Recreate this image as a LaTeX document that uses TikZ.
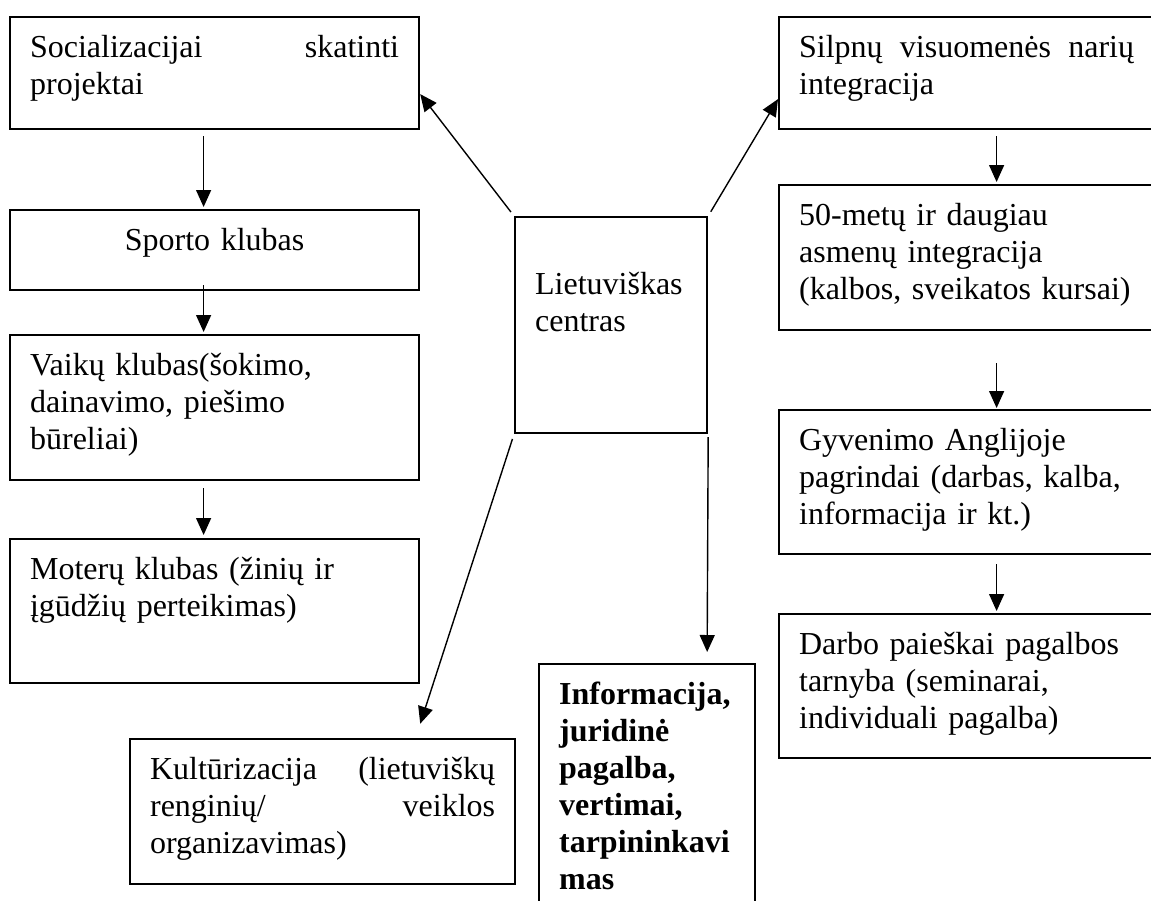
\documentclass[tikz,border=0pt]{standalone}
\usepackage{fontspec}
\setmainfont{Liberation Serif}
\usetikzlibrary{arrows.meta}

\begin{document}
\begin{tikzpicture}
[every node/.style={inner xsep=20pt, inner ysep=0pt},
 card/.style={draw=black, line width=2.2pt, anchor=north west, align=left, font=\fontsize{32pt}{37pt}\selectfont, text height=40pt},
 link/.style={line width=1.4pt, -{Triangle[length=17pt, width=15pt]}, color=black}]
\useasboundingbox (0pt, 0pt) rectangle (1151pt, -900pt);
\clip (0pt, 0pt) rectangle (1151pt, -900pt);
\node (soc) [card, text width=369pt, text depth=72pt] at (9pt, -16pt) {Socializacijai\hfill skatinti\\projektai};
\node (sport) [card, text width=369pt, text depth=40pt, align=center] at (9pt, -209pt) {Sporto klubas};
\node (kids) [card, text width=369pt, text depth=105pt] at (9pt, -334pt) {Vaikų klubas(šokimo,\\dainavimo, piešimo\\būreliai)};
\node (women) [card, text width=369pt, text depth=104pt] at (9pt, -538pt) {Moterų klubas (žinių ir\\įgūdžių perteikimas)};
\node (culture) [card, text width=345pt, text depth=105pt] at (129pt, -738pt) {Kultūrizacija\hfill (lietuviškų\\renginių/\hfill veiklos\\organizavimas)};
\node (centre) [card, text width=152pt, text height=77pt, text depth=139pt] at (514pt, -216pt) {Lietuviškas\\centras};
\node (info) [card, text width=176pt, text depth=217pt] at (538pt, -663pt) {\bfseries Informacija,\\juridinė\\pagalba,\\vertimai,\\tarpininkavi\\mas};
\node (weak) [card, text width=335pt, text depth=72pt] at (778pt, -16pt) {Silpnų\hfill visuomenės\hfill narių\\integracija};
\node (senior) [card, text width=335pt, text depth=105pt] at (778pt, -184pt) {50-metų ir daugiau\\asmenų integracija\\(kalbos, sveikatos kursai)};
\node (life) [card, text width=335pt, text depth=104pt] at (778pt, -409pt) {Gyvenimo Anglijoje\\pagrindai (darbas, kalba,\\informacija ir kt.)};
\node (jobs) [card, text width=335pt, text depth=104pt] at (778pt, -613pt) {Darbo paieškai pagalbos\\tarnyba (seminarai,\\individuali pagalba)};
\draw [link, shorten <=6pt, shorten >=2pt] ([xshift=-11pt]soc.south) to ([xshift=-11pt]sport.north);
\draw [link, shorten >=2pt] ([xshift=-11pt, yshift=6pt]sport.south) to ([xshift=-11pt]kids.north);
\draw [link, shorten <=7pt, shorten >=3pt] ([xshift=-11pt]kids.south) to ([xshift=-11pt]women.north);
\draw [link, shorten <=5pt] (centre.north west) to ([yshift=-21pt]soc.east);
\draw [link, shorten <=5pt] (centre.north east) to ([yshift=-26pt]weak.west);
\draw [link, shorten <=5pt, shorten >=15pt] (centre.south west) to ([xshift=93pt]culture.north);
\draw [link, shorten <=3pt, shorten >=11pt] (centre.south east) to ([xshift=60pt]info.north);
\draw [link, shorten <=6pt, shorten >=2pt] ([xshift=30pt]weak.south) to ([xshift=30pt]senior.north);
\draw [link, shorten <=32pt, shorten >=1pt] ([xshift=30pt]senior.south) to ([xshift=30pt]life.north);
\draw [link, shorten <=9pt, shorten >=2pt] ([xshift=30pt]life.south) to ([xshift=30pt]jobs.north);
\end{tikzpicture}
\end{document}
